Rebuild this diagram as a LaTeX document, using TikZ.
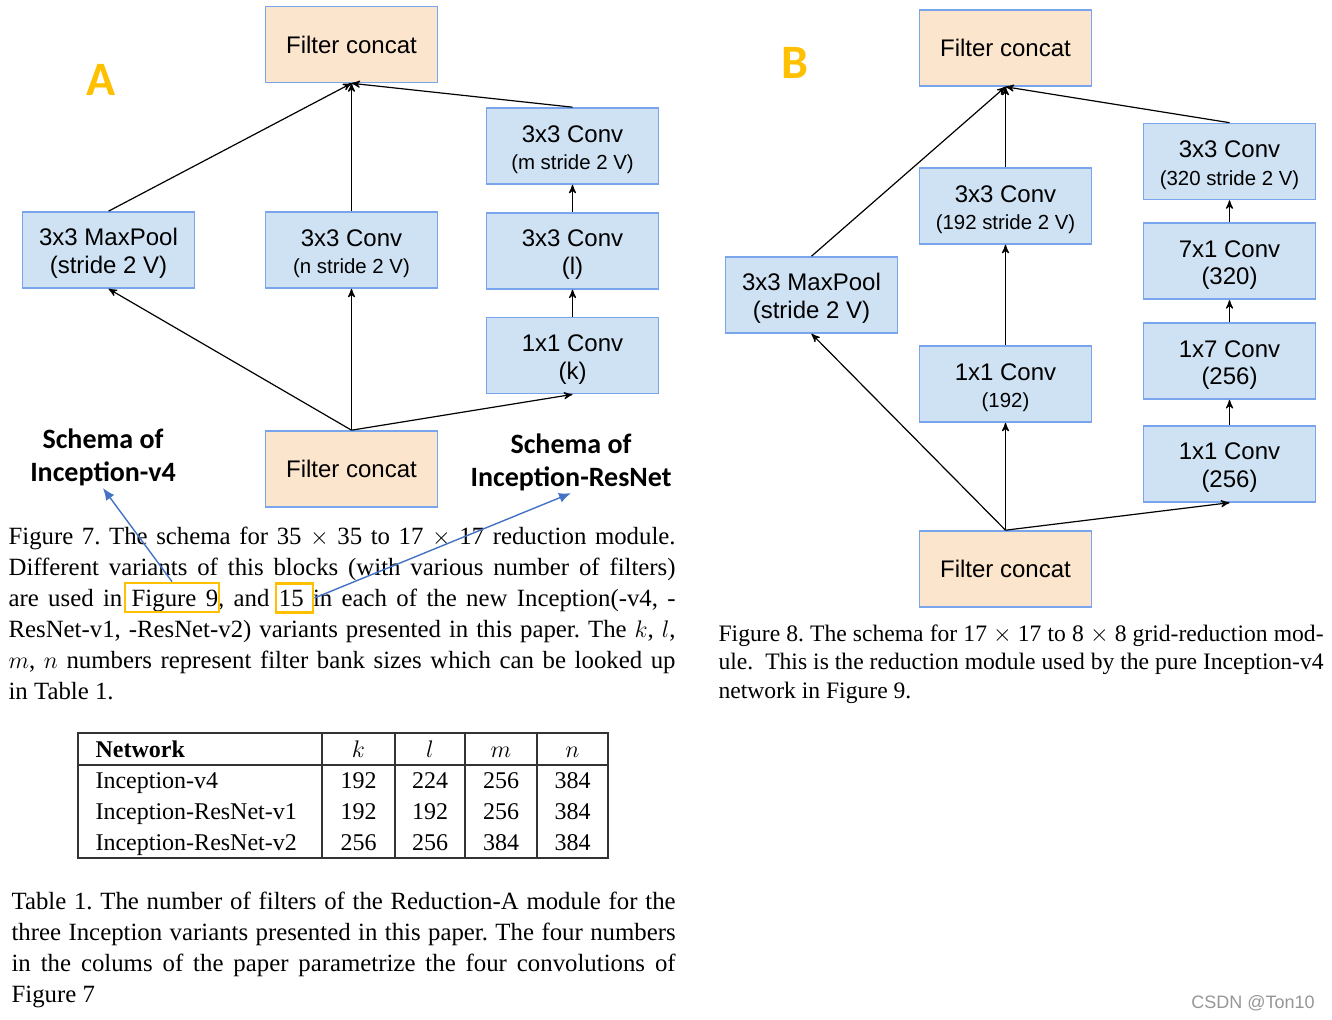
\documentclass[tikz,border=0pt]{standalone}
\usepackage{amsmath}
\usepackage{fontspec}
\setmainfont{Liberation Serif}
\setsansfont{Liberation Sans}
\newfontfamily\labelfont{Carlito}
\usetikzlibrary{arrows,arrows.meta,positioning}

\definecolor{convblue}{RGB}{207,226,243}
\definecolor{edgeblue}{RGB}{120,165,235}
\definecolor{concatorange}{RGB}{252,229,205}
\definecolor{markorange}{RGB}{255,192,0}
\definecolor{pointblue}{RGB}{68,114,196}
\definecolor{markgray}{RGB}{150,150,150}

\newcommand{\subtext}[1]{{\fontsize{10.2}{12}\selectfont #1}}
\tolerance=10000
\frenchspacing

\begin{document}
\begin{tikzpicture}[x=0.5pt,y=-0.5pt,>=stealth',line width=0.6pt,
	block/.style={draw=edgeblue,fill=convblue,line width=0.8pt,minimum width=86pt,minimum height=38pt,inner sep=0pt,align=center,font=\sffamily\fontsize{12}{13.8}\selectfont},
	layer/.style={block,execute at begin node={\rule{0pt}{26pt}}},
	concat/.style={block,fill=concatorange},
	panel/.style={text=markorange,font=\labelfont\bfseries\fontsize{24}{28}\selectfont},
	schema/.style={align=center,inner sep=1pt,font=\labelfont\bfseries\fontsize{14}{16.5}\selectfont},
	refbox/.style={draw=markorange,line width=1.4pt,minimum height=14.5pt,inner sep=0pt},
	pointer/.style={draw=pointblue,line width=0.7pt,-{Latex[length=6pt,width=5pt]}},
	caption/.style={anchor=north west,inner sep=0pt,align=justify},
	cell/.style={inner sep=0pt,font=\fontsize{12}{14}\selectfont},
	tabline/.style={line width=0.6pt,draw=black!80}]
	\useasboundingbox (0,0) rectangle (1332,1020);

	% A: 35x35 -> 17x17
	\node[panel] (labA) at (101,80) {A};
	\node[concat] (topA) at (351.5,44.5) {Filter concat};
	\node[layer] (poolA) at (108.5,250) {3x3 MaxPool\\(stride 2 V)};
	\node[layer] (nA) at (351.5,250) {3x3 Conv\\\subtext{(n stride 2 V)}};
	\node[layer] (mA) at (572.5,146) {3x3 Conv\\\subtext{(m stride 2 V)}};
	\node[layer] [below=13.6pt of mA] (lA) {3x3 Conv\\(l)};
	\node[layer] [below=13.6pt of lA] (kA) {1x1 Conv\\(k)};
	\node[concat] (botA) at (351.5,469) {Filter concat};
	\path[->]
		(botA.north) edge (poolA.south)
		(botA.north) edge (nA.south)
		(botA.north) edge (kA.south)
		(kA) edge (lA)
		(lA) edge (mA)
		(poolA.north) edge (topA.south)
		(nA.north) edge (topA.south)
		(mA.north) edge (topA.south);

	% B: 17x17 -> 8x8
	\node[panel] (labB) at (795,63) {B};
	\node[concat] (topB) at (1005.5,48) {Filter concat};
	\node[layer] (poolB) at (811.5,295) {3x3 MaxPool\\(stride 2 V)};
	\node[layer] (c3B) at (1005.5,206) {3x3 Conv\\\subtext{(192 stride 2 V)}};
	\node[layer] (c1B) at (1005.5,384) {1x1 Conv\\\subtext{(192)}};
	\node[layer] (r4B) at (1229.5,161.5) {3x3 Conv\\\subtext{(320 stride 2 V)}};
	\node[layer] [below=11.1pt of r4B] (r3B) {7x1 Conv\\(320)};
	\node[layer] [below=11.1pt of r3B] (r2B) {1x7 Conv\\(256)};
	\node[layer] [below=12.6pt of r2B] (r1B) {1x1 Conv\\(256)};
	\node[concat] (botB) at (1005.5,569) {Filter concat};
	\path[->]
		(botB.north) edge (poolB.south)
		(botB.north) edge (c1B.south)
		(botB.north) edge (r1B.south)
		(c1B) edge (c3B)
		(r1B) edge (r2B)
		(r2B) edge (r3B)
		(r3B) edge (r4B)
		(poolB.north) edge (topB.south)
		(c3B.north) edge (topB.south)
		(r4B.north) edge (topB.south);

	\node[schema] (schemaA) at (103,457) {Schema of\\Inception-v4};
	\node[schema] (schemaR) at (571,462) {Schema of\\Inception-ResNet};

	\node[caption,text width=333.5pt,font=\fontsize{12.4}{15.5}\selectfont] (capA) at (8,526) {\noindent Figure 7. The schema for 35 $\times$ 35 to 17 $\times$ 17 reduction module.\linebreak Different variants of this blocks (with various number of filters)\linebreak are used in Figure 9, and 15 in each of the new Inception(-v4, -\linebreak ResNet-v1, -ResNet-v2) variants presented in this paper. The $k$, $l$,\linebreak $m$, $n$ numbers represent filter bank sizes which can be looked up\linebreak in Table 1.};
	\node[refbox,minimum width=47pt] (fig9) at (172,597.5) {};
	\node[refbox,minimum width=18.5pt] (fifteen) at (294.5,598) {};
	\draw[pointer] (fig9.north) -- (schemaA.south);
	\draw[pointer] (fifteen.east) -- (schemaR.south);

	\node[caption,text width=302.5pt,font=\fontsize{11.8}{14.25}\selectfont] (capB) at (718,624) {\noindent Figure 8. The schema for 17 $\times$ 17 to 8 $\times$ 8 grid-reduction mod-\linebreak ule.\ \ This is the reduction module used by the pure Inception-v4\linebreak network in Figure 9.};

	% Table 1
	\draw[tabline] (78,733) rectangle (608,858);
	\draw[tabline] (78,765) -- (608,765);
	\foreach \x in {322,395,465,537}
		\draw[tabline] (\x,733) -- (\x,858);
	\node[cell,anchor=base west] (hnet) at (95,757) {\textbf{Network}};
	\foreach \h/\x [count=\i] in {k/358.5,l/430,m/501,n/572.5}
		\node[cell,anchor=base] (head\i) at (\x,757) {$\h$};
	\foreach \net/\vk/\vl/\vm/\vn [count=\r] in {Inception-v4/192/224/256/384,Inception-ResNet-v1/192/192/256/384,Inception-ResNet-v2/256/256/384/384}
	{
		\node[cell,anchor=base west] (net\r) at (95,757+31*\r) {\net};
		\node[cell,anchor=base] (k\r) at (358.5,757+31*\r) {\vk};
		\node[cell,anchor=base] (l\r) at (430,757+31*\r) {\vl};
		\node[cell,anchor=base] (m\r) at (501,757+31*\r) {\vm};
		\node[cell,anchor=base] (n\r) at (572.5,757+31*\r) {\vn};
	}

	\node[caption,text width=332pt,font=\fontsize{12.4}{15.5}\selectfont] (capT) at (11,891) {\noindent Table 1. The number of filters of the Reduction-A module for the\linebreak three Inception variants presented in this paper. The four numbers\linebreak in the colums of the paper parametrize the four convolutions of\linebreak Figure 7};

	\node[text=markgray,font=\sffamily\fontsize{9}{10}\selectfont] (mark) at (1253,1003) {CSDN @Ton10};
\end{tikzpicture}
\end{document}
